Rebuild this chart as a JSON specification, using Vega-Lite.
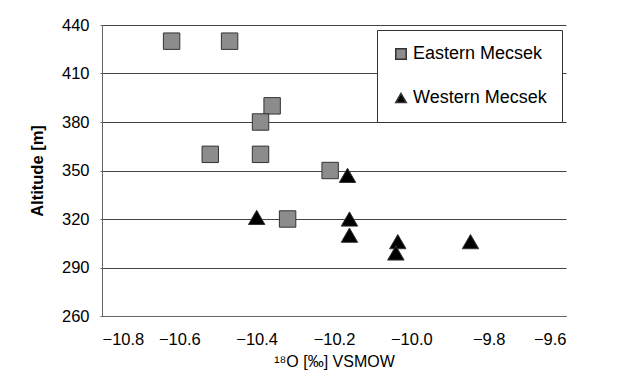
{
  "$schema": "https://vega.github.io/schema/vega-lite/v6.json",
  "width": 464,
  "height": 291,
  "autosize": {"type": "none"},
  "padding": {"left": 102, "top": 25, "right": 62, "bottom": 69},
  "background": "white",
  "config": {
    "font": "Liberation Sans",
    "view": {"stroke": null}
  },
  "data": {
    "values": [
      {"d18O": -10.62, "altitude": 430, "region": "Eastern Mecsek"},
      {"d18O": -10.47, "altitude": 430, "region": "Eastern Mecsek"},
      {"d18O": -10.36, "altitude": 390, "region": "Eastern Mecsek"},
      {"d18O": -10.39, "altitude": 380, "region": "Eastern Mecsek"},
      {"d18O": -10.52, "altitude": 360, "region": "Eastern Mecsek"},
      {"d18O": -10.39, "altitude": 360, "region": "Eastern Mecsek"},
      {"d18O": -10.21, "altitude": 350, "region": "Eastern Mecsek"},
      {"d18O": -10.32, "altitude": 320, "region": "Eastern Mecsek"},
      {"d18O": -10.165, "altitude": 347, "region": "Western Mecsek"},
      {"d18O": -10.40, "altitude": 321, "region": "Western Mecsek"},
      {"d18O": -10.16, "altitude": 320, "region": "Western Mecsek"},
      {"d18O": -10.16, "altitude": 310, "region": "Western Mecsek"},
      {"d18O": -10.035, "altitude": 306, "region": "Western Mecsek"},
      {"d18O": -10.04, "altitude": 299, "region": "Western Mecsek"},
      {"d18O": -9.847, "altitude": 306, "region": "Western Mecsek"}
    ]
  },
  "mark": {"type": "point", "filled": true, "size": 270, "stroke": "#333333", "strokeWidth": 1, "opacity": 1},
  "encoding": {
    "x": {
      "field": "d18O", "type": "quantitative",
      "scale": {"domain": [-10.8, -9.6], "nice": false, "zero": false},
      "axis": {
        "values": [-10.8, -10.6, -10.4, -10.2, -10.0, -9.8, -9.6],
        "format": ".1f",
        "grid": false,
        "ticks": false,
        "domainColor": "#666666",
        "labelFontSize": 16.5,
        "labelColor": "#000000",
        "labelPadding": 15,
        "title": "¹⁸O [‰] VSMOW",
        "titleFontSize": 16,
        "titleFontWeight": "normal",
        "titleColor": "#000000",
        "titlePadding": 6
      }
    },
    "y": {
      "field": "altitude", "type": "quantitative",
      "scale": {"domain": [260, 440], "nice": false, "zero": false},
      "axis": {
        "values": [260, 290, 320, 350, 380, 410, 440],
        "grid": true,
        "gridColor": "#444444",
        "gridOpacity": 1,
        "gridWidth": 1,
        "ticks": true,
        "tickSize": 2,
        "tickColor": "#666666",
        "domainColor": "#666666",
        "labelFontSize": 16.5,
        "labelColor": "#000000",
        "labelPadding": 11,
        "title": "Altitude [m]",
        "titleFontSize": 16.5,
        "titleFontWeight": "bold",
        "titleColor": "#000000",
        "titlePadding": 16
      }
    },
    "color": {
      "field": "region", "type": "nominal",
      "scale": {"domain": ["Eastern Mecsek", "Western Mecsek"], "range": ["#8c8c8c", "#000000"]},
      "legend": {
        "title": null,
        "orient": "none",
        "legendX": 275,
        "legendY": 5,
        "padding": 15,
        "strokeColor": "#333333",
        "fillColor": "#ffffff",
        "labelFontSize": 18,
        "labelColor": "#000000",
        "symbolSize": 110,
        "rowPadding": 26,
        "labelOffset": 3
      }
    },
    "shape": {
      "field": "region", "type": "nominal",
      "scale": {"domain": ["Eastern Mecsek", "Western Mecsek"], "range": ["square", "triangle-up"]}
    }
  }
}
